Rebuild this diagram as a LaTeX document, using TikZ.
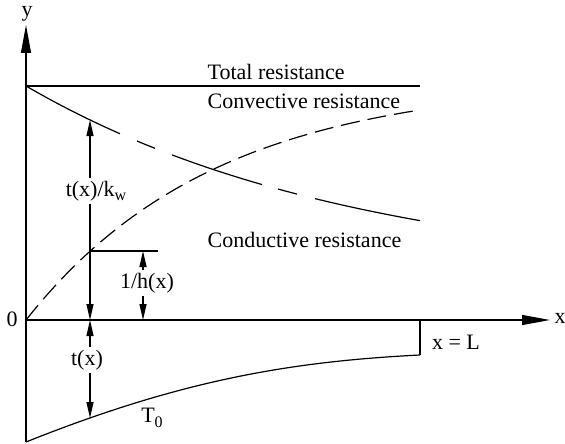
\documentclass[tikz,border=0pt]{standalone}
\usepackage{fontspec}
\setmainfont{Liberation Serif}
\usetikzlibrary{arrows.meta}
\begin{document}
\begin{tikzpicture}[x=1pt,y=-1pt,
  line width=1.2pt,
  axisarrow/.style={-{Triangle[length=28pt,width=10pt]}},
  dimarrow/.style={-{Triangle[length=16pt,width=7pt]}},
  lbl/.style={font=\fontsize{22}{24}\selectfont, inner sep=2pt},
  convline/.style={dash pattern=on 19pt off 8pt},
  cond/.style={samples=40}]
\useasboundingbox (0,0) rectangle (565,444);
% axes
\coordinate (O) at (26,320);
\coordinate (Ytop) at (26,25);
\coordinate (Ybot) at (26,442);
\coordinate (Xtip) at (550,320);
\draw[axisarrow] (Ybot) -- (Ytop);
\draw[axisarrow] (O) -- (Xtip);
\node[lbl, inner sep=0pt] (ylab) at (27,14) {y};
\node[lbl] (xlab) at (560,318) {x};
\node[lbl] (zero) at (12,319) {0};
% total resistance
\coordinate (TL) at (26,86);
\coordinate (TR) at (420,86);
\draw (TL) -- (TR);
\node[lbl, anchor=west] (tot) at (205,72) {Total resistance};
\node[lbl, anchor=west] (conv) at (205,101) {Convective resistance};
\node[lbl, anchor=west] (cond) at (205,240) {Conductive resistance};
% conductive curve (solid / broken)
\foreach \a/\b in {26/120,137/155,172/262,278/297,315/420}{
  \draw[cond] plot[domain=\a:\b] (\x,{280-194*exp(-0.003*(\x-26))});
}
% convective curve (dashed)
\draw[convline, samples=60] plot[domain=26:420] (\x,{320-240*(1-exp(-0.00528*(\x-26)))});
% bottom curve
\coordinate (Bl) at (26,442);
\coordinate (Bt) at (90,418);
\coordinate (Br) at (420,355);
\coordinate (Rx) at (420,320);
\draw (Bl) .. controls (180,380.4) and (290,361.5) .. (Br);
\draw (Br) -- (Rx);
\node[lbl] (xL) at (456,342) {x = L};
\node[lbl] (T0) at (152,418) {T\raisebox{-0.45ex}{\fontsize{16}{16}\selectfont 0}};
% dimension t(x)/k_w and 1/h(x)
\coordinate (C1) at (90,120);
\coordinate (J) at (90,251);
\coordinate (A1) at (90,320);
\coordinate (Hr) at (158,251);
\coordinate (H1) at (143,251);
\coordinate (H2) at (143,320);
\draw (J) -- (Hr);
\node[lbl] (tk) at (96,191) {t(x)/k\raisebox{-0.45ex}{\fontsize{16}{16}\selectfont w}};
\draw[dimarrow] (tk.north -| C1) -- (C1);
\draw[dimarrow] (tk.south -| C1) -- (A1);
\node[lbl] (hx) at (147,283) {1/h(x)};
\draw[dimarrow] (hx.north -| H1) -- (H1);
\draw[dimarrow] (hx.south -| H1) -- (H2);
% t(x) below axis
\node[lbl] (tx) at (87,360) {t(x)};
\draw[dimarrow] (tx.north -| A1) -- (A1);
\draw[dimarrow] (tx.south -| A1) -- (Bt);
\end{tikzpicture}
\end{document}
